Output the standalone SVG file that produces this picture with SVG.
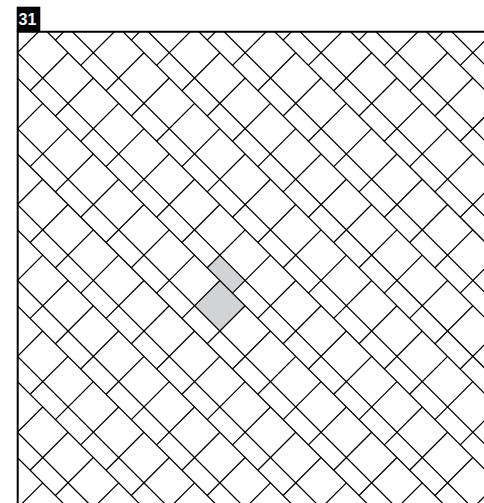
<svg xmlns="http://www.w3.org/2000/svg" width="484" height="503" viewBox="0 0 484 503">
<style>
.ln{fill:none;stroke:#000;stroke-width:0.072}
.vd{stroke-dasharray:3 3}
.sh{fill:#d2d3d5;stroke:none}
.bd{stroke:#000;stroke-width:2;fill:none}
.lbl{font-family:"Liberation Sans",Arial,sans-serif;font-weight:bold;font-size:16px;fill:#fff}
</style>
<defs>
<clipPath id="area"><rect x="17.7" y="31.7" width="466.3" height="471.3"/></clipPath>
</defs>
<rect width="484" height="503" fill="#fff"/>
<g id="pattern" clip-path="url(#area)">
<g transform="matrix(12.65 12.65 -12.65 12.65 219.85 280.45)">
<g id="shaded">
<rect class="sh" x="-1" y="-1" width="2" height="1"/>
<rect class="sh" x="0" y="0" width="2" height="2"/>
</g>
<path class="ln" d="M-18,-21H20M-18,-19H20M-18,-18H20M-18,-16H20M-18,-15H20M-18,-13H20M-18,-12H20M-18,-10H20M-18,-9H20M-18,-7H20M-18,-6H20M-18,-4H20M-18,-3H20M-18,-1H20M-18,0H20M-18,2H20M-18,3H20M-18,5H20M-18,6H20M-18,8H20M-18,9H20M-18,11H20M-18,12H20M-18,14H20M-18,15H20M-18,17H20M-18,18H20"/>
<path class="ln vd" d="M-18,-18V18M-16,-18V18M-14,-18V18M-12,-18V18M-10,-18V18M-8,-18V18M-6,-18V18M-4,-18V18M-2,-18V18M0,-18V18M2,-18V18M4,-18V18M6,-18V18M8,-18V18M10,-18V18M12,-18V18M14,-18V18M16,-18V18M18,-18V18M20,-18V18"/>
<path class="ln vd" d="M-19,-21V18M-17,-21V18M-15,-21V18M-13,-21V18M-11,-21V18M-9,-21V18M-7,-21V18M-5,-21V18M-3,-21V18M-1,-21V18M1,-21V18M3,-21V18M5,-21V18M7,-21V18M9,-21V18M11,-21V18M13,-21V18M15,-21V18M17,-21V18M19,-21V18"/>
</g>
</g>
<g id="frame">
<path class="bd" d="M16.7,31.7H484M17.7,30.7V503"/>
</g>
<g id="label">
<rect x="16.7" y="6.7" width="23.6" height="25" fill="#000"/>
<text class="lbl" x="18.6" y="25.4">31</text>
</g>
</svg>
